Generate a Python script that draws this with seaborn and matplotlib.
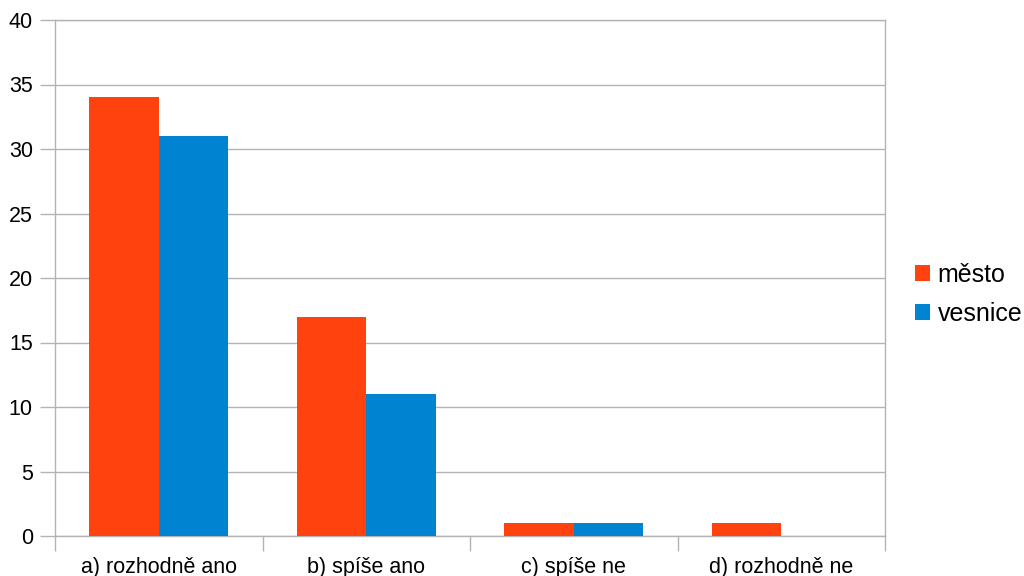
import numpy as np
import pandas as pd
import matplotlib
matplotlib.use('Agg')
import matplotlib.pyplot as plt
import seaborn as sns

categories = ['a) rozhodně ano', 'b) spíše ano', 'c) spíše ne', 'd) rozhodně ne']
mesto = [34, 17, 1, 1]
vesnice = [31, 11, 1, 0]
series_names = ['město', 'vesnice']
colors = ['#FF420E', '#0084D1']

df = pd.DataFrame({
    'kategorie': categories * 2,
    'hodnota': mesto + vesnice,
    'skupina': [series_names[0]] * 4 + [series_names[1]] * 4,
})

sns.set_style('white')
plt.rcParams['font.family'] = ['Liberation Sans', 'DejaVu Sans']

fig = plt.figure(figsize=(10.24, 5.76), dpi=100)
ax = fig.add_axes([55 / 1024, 40 / 576, 830 / 1024, 516 / 576])

sns.barplot(data=df, x='kategorie', y='hodnota', hue='skupina', hue_order=series_names,
            palette=colors, width=0.67, saturation=1, errorbar=None, ax=ax,
            linewidth=0, zorder=3)

grid_c = '#b3b3b3'
ax.set_ylim(0, 40)
ax.set_xlim(-0.5, 3.5)
ax.set_yticks(range(0, 41, 5))
ax.yaxis.grid(True, color=grid_c, linewidth=1, zorder=0)
ax.set_axisbelow(True)
for s in ax.spines.values():
    s.set_color(grid_c)
    s.set_linewidth(1)

# major ticks at category boundaries, labels at centers
ax.set_xticks([-0.5, 0.5, 1.5, 2.5, 3.5])
ax.set_xticklabels([])
ax.set_xticks(range(4), minor=True)
ax.set_xticklabels(categories, minor=True)
ax.tick_params(axis='x', which='major', length=11, color=grid_c, width=1, direction='out', bottom=True)
ax.tick_params(axis='x', which='minor', length=0, labelsize=15.5, pad=15, colors='black')
ax.tick_params(axis='y', length=11, color=grid_c, width=1, direction='out', left=True,
               labelsize=15.5, pad=5, labelcolor='black')
ax.set_xlabel('')
ax.set_ylabel('')

leg = ax.legend(loc='center left', bbox_to_anchor=(1 + 30 / 830, 0.468), frameon=False,
                fontsize=18, borderpad=0, borderaxespad=0,
                handlelength=0.6, handleheight=0.6, handletextpad=0.3,
                labelspacing=0.6, labelcolor='black')

fig.savefig('out.png', dpi=100)
